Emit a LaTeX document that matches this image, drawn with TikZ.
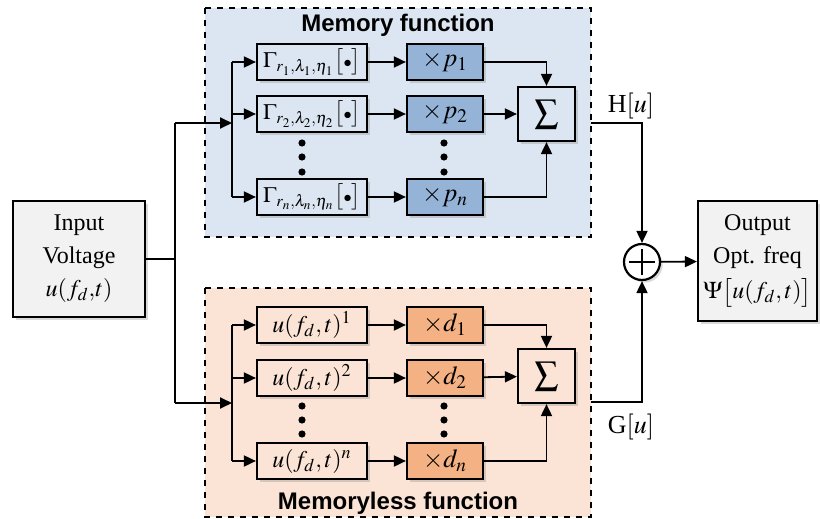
\documentclass[tikz,border=0pt]{standalone}
\usepackage{mathptmx}
\usepackage{fontspec}
\setmainfont{Liberation Serif}
\setsansfont{Liberation Sans}
\usepackage{xcolor}
\definecolor{memBg}{RGB}{220,230,242}
\definecolor{memBox}{RGB}{149,179,215}
\definecolor{mlBg}{RGB}{251,228,213}
\definecolor{mlBox}{RGB}{244,177,131}
\definecolor{ioFill}{RGB}{242,242,242}
\usetikzlibrary{arrows.meta,shadows,positioning}

\tikzset{
  frame/.style={draw, dashed, line width=0.8pt},
  shade box/.style={drop shadow={shadow xshift=1.3pt, shadow yshift=-1.3pt, opacity=0.3}},
  blk/.style={draw, line width=1.1pt, inner sep=0pt, minimum height=18pt, shade box},
  opblk/.style={blk, minimum width=55pt, font=\fontsize{11}{13}\selectfont},
  wblk/.style={blk, minimum width=38pt, font=\fontsize{13}{15}\selectfont},
  sumblk/.style={blk, minimum width=28.5pt, minimum height=27pt, font=\fontsize{17}{19}\selectfont},
  iobox/.style={draw, line width=1.1pt, fill=ioFill, align=center, inner sep=0pt, shade box,
    font=\fontsize{12}{16.5}\selectfont},
  ttl/.style={font=\sffamily\bfseries\fontsize{12}{13}\selectfont, inner sep=1pt},
  ln/.style={line width=0.9pt},
  arr/.style={ln, -{Triangle[length=6pt,width=5.5pt]}},
}

\begin{document}
\begin{tikzpicture}[x=0.5pt, y=-0.5pt]
    \useasboundingbox (0,0) rectangle (820,519);

    % Frames
    \draw[frame, fill=memBg] (205,8) rectangle (591,237);
    \draw[frame, fill=mlBg] (205,288) rectangle (591,517);
    \node[ttl] (tMem) at (398,25) {Memory function};
    \node[ttl] (tMl) at (398,503) {Memoryless function};

    % Input and output
    \node[iobox, minimum width=66pt, minimum height=58pt] (inp) at (79,259)
        {Input\\Voltage\\$u(f_d{,}t)$};
    \node[iobox, minimum width=59.5pt, minimum height=60pt] (out) at (757.5,261)
        {Output\\Opt. freq\\[1pt]$\Psi\bigl[u(f_d,t)\bigr]$};
    \node[circle, draw, line width=1.1pt, fill=white, minimum size=18pt, inner sep=0pt, shade box,
      path picture={
        \draw[line width=0.9pt] ([xshift=-6.5pt]path picture bounding box.center)
          -- ([xshift=6.5pt]path picture bounding box.center);
        \draw[line width=0.9pt] ([yshift=-6.5pt]path picture bounding box.center)
          -- ([yshift=6.5pt]path picture bounding box.center);
      }] (add) at (642,262) {};

    % Memory branch
    \node[opblk, fill=memBg] (g1) at (312,62) {$\Gamma_{r_1,\lambda_1,\eta_1}\bigl[{\scriptstyle\bullet}\bigr]$};
    \node[opblk, fill=memBg] (g2) at (312,114) {$\Gamma_{r_2,\lambda_2,\eta_2}\bigl[{\scriptstyle\bullet}\bigr]$};
    \node[opblk, fill=memBg] (gn) at (312,197) {$\Gamma_{r_n,\lambda_n,\eta_n}\bigl[{\scriptstyle\bullet}\bigr]$};
    \node[wblk, fill=memBox] (p1) at (445,62) {$\times p_1$};
    \node[wblk, fill=memBox] (p2) at (445,114) {$\times p_2$};
    \node[wblk, fill=memBox] (pn) at (445,197) {$\times p_n$};
    \node[sumblk, fill=memBg] (sumH) at (546.5,114) {$\sum$};

    % Memoryless branch
    \node[opblk, fill=mlBg, font=\fontsize{12}{14}\selectfont] (u1) at (312,325) {$u(f_d,t)^1$};
    \node[opblk, fill=mlBg, font=\fontsize{12}{14}\selectfont] (u2) at (312,378) {$u(f_d,t)^2$};
    \node[opblk, fill=mlBg, font=\fontsize{12}{14}\selectfont] (un) at (312,461) {$u(f_d,t)^n$};
    \node[wblk, fill=mlBox] (d1) at (445,325) {$\times d_1$};
    \node[wblk, fill=mlBox] (d2) at (445,378) {$\times d_2$};
    \node[wblk, fill=mlBox] (dn) at (445,461) {$\times d_n$};
    \node[sumblk, fill=mlBg] (sumG) at (546.5,376) {$\sum$};

    % Dots
    \foreach \y in {143,157,172,406,420,434} {
        \fill (302,\y) circle (1.8pt);
        \fill (444,\y) circle (1.8pt);
    }

    % Splitting the input
    \coordinate (trunkT) at (175,123);
    \coordinate (trunkB) at (175,403);
    \coordinate (brT) at (232,123);
    \coordinate (brB) at (232,403);
    \draw[ln] (inp.east) -- (inp.east -| trunkT);
    \draw[ln] (trunkT) -- (trunkB);
    \draw[arr] (trunkT) -- (brT);
    \draw[arr] (trunkB) -- (brB);
    \draw[ln] (g1.west -| brT) -- (gn.west -| brT);
    \draw[ln] (u1.west -| brB) -- (un.west -| brB);
    \foreach \i in {1,2,n} {
        \draw[arr] (g\i.west -| brT) -- (g\i.west);
        \draw[arr] (u\i.west -| brB) -- (u\i.west);
        \draw[arr] (g\i) -- (p\i);
        \draw[arr] (u\i) -- (d\i);
    }

    % Sums
    \draw[arr] (p1) -| (sumH);
    \draw[arr] (p2) -- (sumH);
    \draw[arr] (pn) -| (sumH);
    \draw[arr] (d1) -| (sumG);
    \draw[arr] (d2) -- (sumG);
    \draw[arr] (dn) -| (sumG);

    % Combining
    \coordinate (hOut) at (591,123);
    \coordinate (gOut) at (591,402);
    \draw[arr] (hOut) -| (add);
    \draw[arr] (gOut) -| (add);
    \draw[arr] (add) -- (out);
    \node[font=\fontsize{13}{15}\selectfont] (hLbl) at (631,106) {H$[u]$};
    \node[font=\fontsize{13}{15}\selectfont] (gLbl) at (631,427) {G$[u]$};
\end{tikzpicture}
\end{document}
